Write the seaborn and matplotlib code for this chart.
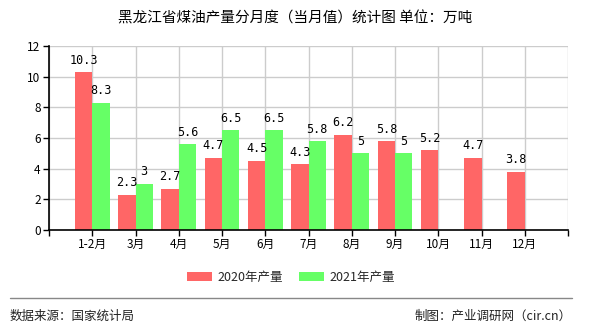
import matplotlib
matplotlib.use("Agg")
import matplotlib.pyplot as plt
import seaborn as sns
import pandas as pd
import numpy as np

months = ["1-2月", "3月", "4月", "5月", "6月", "7月", "8月", "9月", "10月", "11月", "12月"]
v2020 = [10.3, 2.3, 2.7, 4.7, 4.5, 4.3, 6.2, 5.8, 5.2, 4.7, 3.8]
v2021 = [8.3, 3, 5.6, 6.5, 6.5, 5.8, 5, 5, np.nan, np.nan, np.nan]
series = ["2020年产量", "2021年产量"]
colors = ["#FF6666", "#66FF66"]

sns.set_theme(style="white")
plt.rcParams['font.family'] = ['Noto Sans CJK SC', 'DejaVu Sans']

df = pd.DataFrame({
    "month": months * 2,
    "value": v2020 + v2021,
    "series": [series[0]] * len(months) + [series[1]] * len(months),
})

fig = plt.figure(figsize=(5.9, 3.3), dpi=100)
ax = fig.add_axes([49/590, 1-230/330, (568-49)/590, (230-46)/330])

sns.barplot(data=df, x="month", y="value", hue="series", order=months,
            hue_order=series, palette=colors, width=0.8, saturation=1,
            linewidth=0, edgecolor='none', ax=ax, legend=True)

for cont in ax.containers:
    for bar in cont.patches if hasattr(cont, "patches") else cont:
        if bar is None:
            continue
        h = bar.get_height()
        if h is None or np.isnan(h):
            continue
        ax.annotate(f"{h:g}", (bar.get_x() + bar.get_width() / 2, h),
                    xytext=(0, 4), textcoords='offset points', ha='center',
                    va='bottom', fontsize=8.5, family=['DejaVu Sans Mono'],
                    color='black')

ax.set_xlim(-1, 11)
ax.set_ylim(0, 12)
ax.set_yticks(range(0, 13, 2))
ax.set_xticks(range(-1, 12))
ax.set_xticklabels([""] + months + [""])
ax.tick_params(axis='both', labelsize=8.5, colors='black', length=4, width=1,
               direction='out', bottom=True, left=True, pad=2)
ax.grid(True, color='#cccccc', linewidth=1)
ax.set_axisbelow(True)
ax.set_xlabel("")
ax.set_ylabel("")
for s in ["top", "right"]:
    ax.spines[s].set_visible(False)
for s in ["left", "bottom"]:
    ax.spines[s].set_color('black')
    ax.spines[s].set_linewidth(1.2)

leg = ax.legend(loc='center', bbox_to_anchor=(291/590, 1-277/330),
                bbox_transform=fig.transFigure, ncol=2, frameon=False,
                fontsize=9, handlelength=2.0, handleheight=0.7,
                columnspacing=1.3, handletextpad=0.4)

fig.text(295/590, 1-18/330, "黑龙江省煤油产量分月度（当月值）统计图 单位：万吨",
         ha='center', va='center', fontsize=10.5, color='black')
fig.add_artist(plt.Line2D([10/590, 572/590], [1-298/330, 1-298/330],
                          transform=fig.transFigure, color='#888888', linewidth=1))
fig.text(10/590, 1-316/330, "数据来源：国家统计局", ha='left', va='center',
         fontsize=9, color='#222222')
fig.text(572/590, 1-316/330, "制图：产业调研网（cir.cn）", ha='right', va='center',
         fontsize=9, color='#222222')

fig.savefig("out.png", dpi=100)
